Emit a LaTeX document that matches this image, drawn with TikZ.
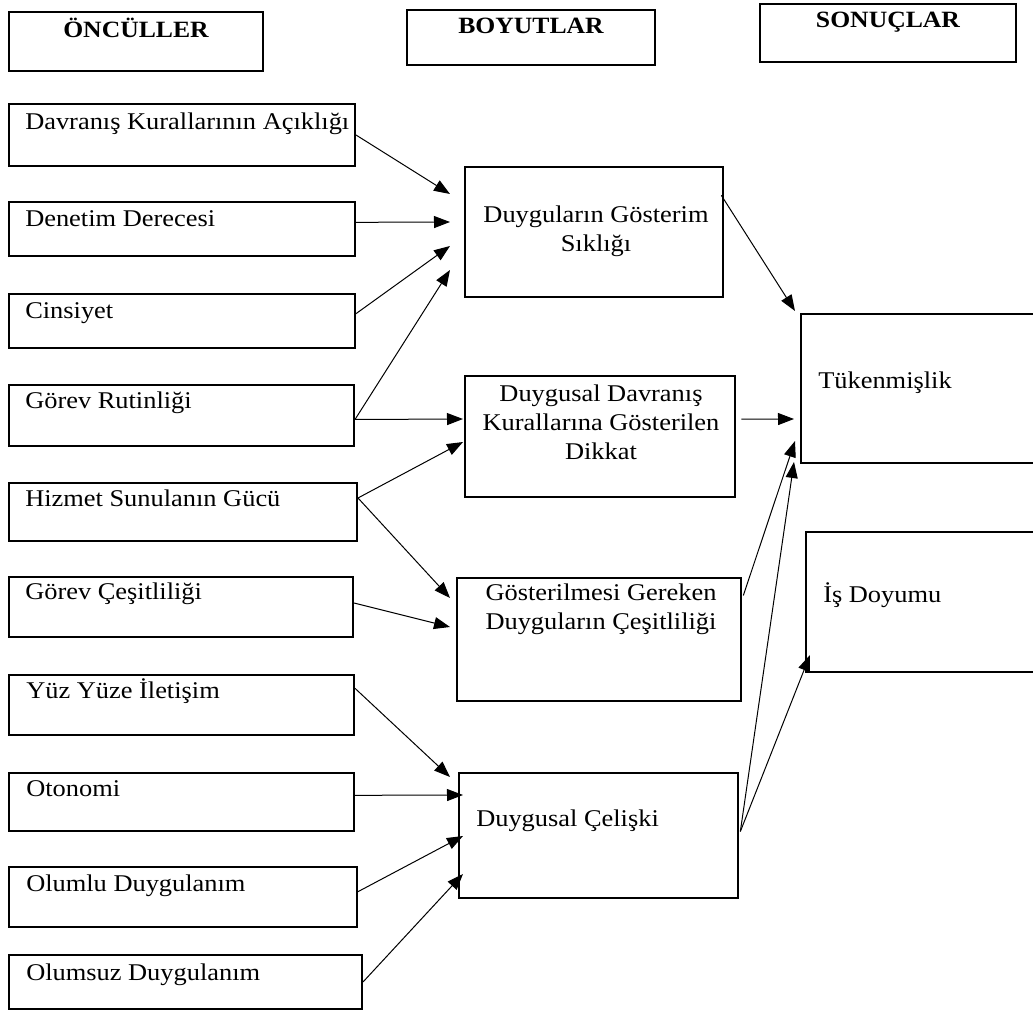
\documentclass[tikz,border=0pt]{standalone}
\usepackage{fontspec}
\setmainfont{Liberation Serif}[FakeStretch=1.1]
\usetikzlibrary{arrows.meta,fit}
\tikzset{
  box/.style={draw, line width=1.5pt, inner sep=0pt, rectangle},
  lbl/.style={font=\fontsize{18}{22}\selectfont, inner sep=0pt},
  hd/.style={font=\fontsize{17.5}{20}\selectfont\bfseries, inner sep=0pt},
  arr/.style={-{Triangle[length=12pt,width=9pt]}, line width=0.75pt}
}
\begin{document}
\begin{tikzpicture}[x=0.75pt,y=-0.75pt]
\useasboundingbox (0,0) rectangle (1033,1012);
% headers
\node[box, fit={(9,12) (263,71)}] (h1) {};
\node[hd, anchor=base] (h1t) at (136,38) {ÖNCÜLLER};
\node[box, fit={(407,10) (655,65)}] (h2) {};
\node[hd, anchor=base] (h2t) at (531,34) {BOYUTLAR};
\node[box, fit={(760,4) (1016,62)}] (h3) {};
\node[hd, anchor=base] (h3t) at (888,28) {SONUÇLAR};
% antecedents
\node[box, fit={(9,104) (355,166)}] (a1) {};
\node[lbl, anchor=base west] (a1t) at (25,130) {Davranış Kurallarının Açıklığı};
\node[box, fit={(9,202) (355,256)}] (a2) {};
\node[lbl, anchor=base west] (a2t) at (25,227) {Denetim Derecesi};
\node[box, fit={(9,294) (355,348)}] (a3) {};
\node[lbl, anchor=base west] (a3t) at (25,319) {Cinsiyet};
\node[box, fit={(9,385) (354,446)}] (a4) {};
\node[lbl, anchor=base west] (a4t) at (25,409) {Görev Rutinliği};
\node[box, fit={(9,483) (357,541)}] (a5) {};
\node[lbl, anchor=base west] (a5t) at (25,507) {Hizmet Sunulanın Gücü};
\node[box, fit={(9,577) (353,637)}] (a6) {};
\node[lbl, anchor=base west] (a6t) at (25,600) {Görev Çeşitliliği};
\node[box, fit={(9,675) (354,735)}] (a7) {};
\node[lbl, anchor=base west] (a7t) at (26,699) {Yüz Yüze İletişim};
\node[box, fit={(9,773) (354,831)}] (a8) {};
\node[lbl, anchor=base west] (a8t) at (26,797) {Otonomi};
\node[box, fit={(9,867) (357,927)}] (a9) {};
\node[lbl, anchor=base west] (a9t) at (26,891) {Olumlu Duygulanım};
\node[box, fit={(9,955) (362,1009)}] (a10) {};
\node[lbl, anchor=base west] (a10t) at (26,980) {Olumsuz Duygulanım};
% dimensions (base anchor = last line baseline)
\node[box, fit={(465,167) (723,297)}] (b1) {};
\node[lbl, anchor=base, align=center] (b1t) at (596,252) {Duyguların Gösterim\\Sıklığı};
\node[box, fit={(465,376) (735,497)}] (b2) {};
\node[lbl, anchor=base, align=center] (b2t) at (601,460) {Duygusal Davranış\\Kurallarına Gösterilen\\Dikkat};
\node[box, fit={(457,578) (741,701)}] (b3) {};
\node[lbl, anchor=base, align=center] (b3t) at (601,630) {Gösterilmesi Gereken\\Duyguların Çeşitliliği};
\node[box, fit={(459,773) (738,898)}] (b4) {};
\node[lbl, anchor=base west] (b4t) at (476,826) {Duygusal Çelişki};
% outcomes
\node[box, fit={(801,314) (1045,463)}] (c1) {};
\node[lbl, anchor=base west] (c1t) at (818,389) {Tükenmişlik};
\node[box, fit={(806,532) (1045,672)}] (c2) {};
\node[lbl, anchor=base west] (c2t) at (823,603) {İş Doyumu};
% arrow tips
\coordinate (t1) at (450,194);
\coordinate (t2) at (450,222);
\coordinate (t3) at (450,246);
\coordinate (t4) at (450,270);
\coordinate (t5) at (463,419);
\coordinate (t6) at (463,442);
\coordinate (t7) at (450,598);
\coordinate (t8) at (450,627);
\coordinate (t9) at (450,777);
\coordinate (t10) at (463,795);
\coordinate (t11) at (463,836);
\coordinate (t12) at (463,874);
\coordinate (t13) at (795,311);
\coordinate (t14) at (794,419);
\coordinate (t15) at (795,441);
\coordinate (t16) at (794,462);
\coordinate (t17) at (810,655);
% connectors
\draw[arr] (a1.east) -- (t1);
\draw[arr] ([yshift=5pt]a2.east) -- (t2);
\draw[arr] ([yshift=5.5pt]a3.east) -- (t3);
\draw[arr] ([yshift=-3pt]a4.east) -- (t4);
\draw[arr] ([yshift=-3pt]a4.east) -- (t5);
\draw[arr] ([yshift=10.5pt]a5.east) -- (t6);
\draw[arr] ([yshift=10.5pt]a5.east) -- (t7);
\draw[arr] ([yshift=3pt]a6.east) -- (t8);
\draw[arr] ([yshift=12.5pt]a7.east) -- (t9);
\draw[arr] ([yshift=5pt]a8.east) -- (t10);
\draw[arr] ([yshift=4pt]a9.east) -- (t11);
\draw[arr] (a10.east) -- (t12);
\draw[arr] ([yshift=27.5pt,xshift=-2pt]b1.east) -- (t13);
\draw[arr] ([yshift=13pt,xshift=4pt]b2.east) -- (t14);
\draw[arr] ([yshift=33pt,xshift=1pt]b3.east) -- (t15);
\draw[arr] ([yshift=3pt,xshift=1pt]b4.east) -- (t16);
\draw[arr] ([yshift=3pt,xshift=1pt]b4.east) -- (t17);
\end{tikzpicture}
\end{document}
